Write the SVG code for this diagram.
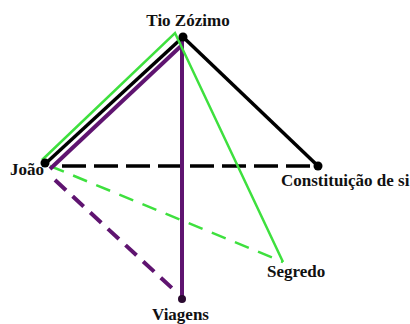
<svg xmlns="http://www.w3.org/2000/svg" width="410" height="324" viewBox="0 0 410 324">
<style>
.blk{stroke:#000;stroke-width:3.5;fill:none}
.pur{stroke:#5f1470;stroke-width:4;fill:none}
.grn{stroke:#3ee03e;stroke-width:2.5;fill:none}
.dot{fill:#000}
text{font-weight:bold;font-size:17px;fill:#111}
</style>
<rect width="410" height="324" fill="#fff"/>
<g id="connectors" stroke-linecap="butt">
<line class="blk" x1="62" y1="166" x2="318" y2="166" stroke-width="5" stroke-dasharray="24 8"/>
<line class="pur" x1="55" y1="180" x2="173" y2="289" stroke-dasharray="15 9"/>
<line class="grn" x1="50" y1="166" x2="283" y2="262" stroke-width="3" stroke-dasharray="15 10"/>
<line class="pur" x1="182" y1="40" x2="182" y2="299" stroke-width="4.5"/>
<line class="pur" x1="50" y1="169" x2="181" y2="46"/>
<line class="blk" x1="45" y1="164" x2="183" y2="37"/>
<line class="blk" x1="183" y1="37" x2="318" y2="166"/>
<polyline class="grn" points="42,160 175,33 283,262"/>
</g>
<g font-family="'Liberation Serif', 'DejaVu Serif', serif">
<g id="tio"><circle class="dot" cx="183" cy="37" r="4.5"/><text x="188" y="26" text-anchor="middle">Tio Zózimo</text></g>
<g id="joao"><circle class="dot" cx="45" cy="163" r="4.5"/><text x="10" y="175">João</text></g>
<g id="constituicao"><circle class="dot" cx="318" cy="166" r="4.5"/><text x="281" y="186">Constituição de si</text></g>
<g id="segredo"><text x="267" y="277">Segredo</text></g>
<g id="viagens"><circle cx="182" cy="299" r="4" fill="#2a0a30"/><text x="152" y="320">Viagens</text></g>
</g>
</svg>
